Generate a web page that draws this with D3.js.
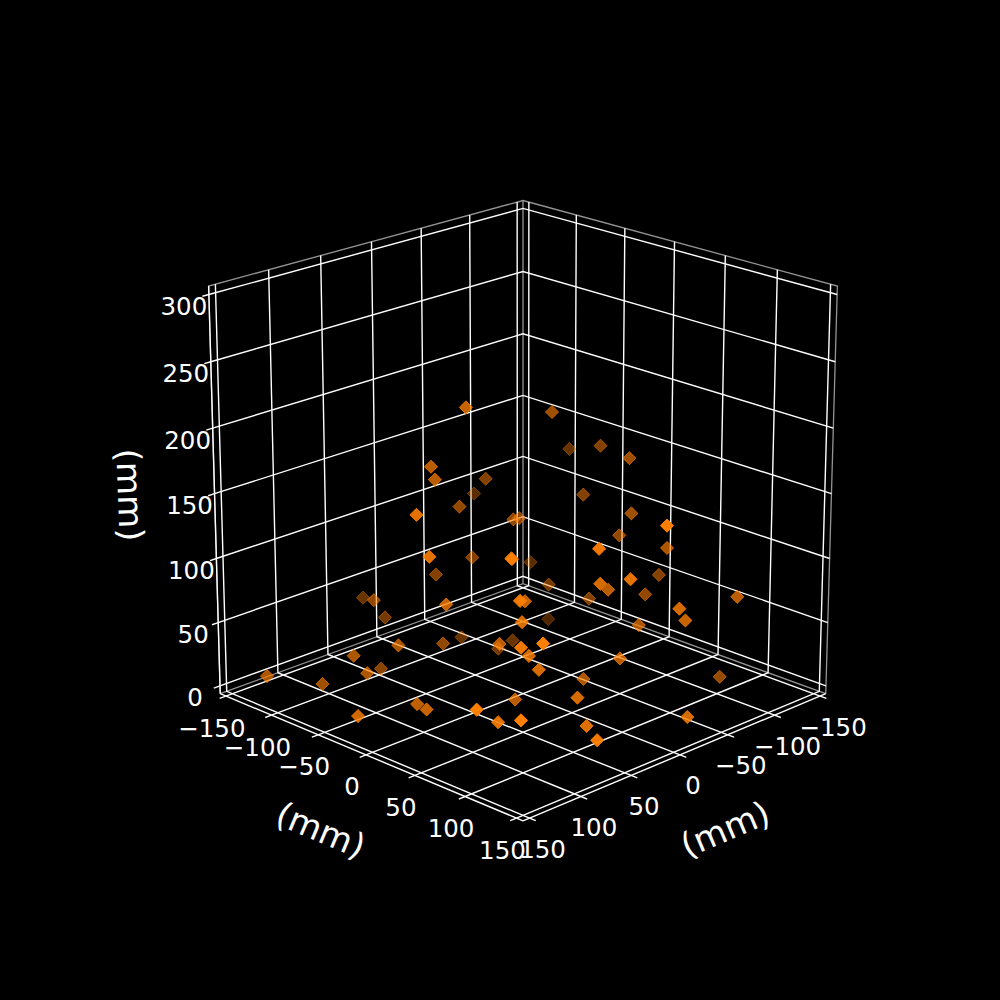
<!DOCTYPE html><html><head><meta charset="utf-8"><script src="https://d3js.org/d3.v7.min.js"></script></head><body style="margin:0;background:#000">
<svg id="s" width="1000" height="1000" style="display:block;background:#000"></svg>
<script>
const xValues=[9,26,26,-42,-65,-13,73,74,-21,1,23,48,25,53,-9,54,-39,-42,46,12,-67,-83,-18,-43,-23,-115,-94,-75,-63,28,-92,-48,53,54,30,28,22,-29,-37,-25,20,-22,78,80,97,22,68,77,137,101,89,64,85,51,123,-67,-113,-108,-99,-90,-90,-29,-91,-2,-91,-54,-66,-108,13,20,33,-114,-39];
const yValues=[-49,-68,-64,-81,-117,-79,-34,-20,-74,-90,-146,-107,-120,-25,-21,43,-49,-46,43,14,-40,-75,60,44,85,27,33,-6,56,27,-65,-59,73,52,36,44,-2,-55,62,37,-63,-87,-30,-18,51,14,43,75,-126,-106,-85,-64,-75,-97,-44,-37,-64,-27,11,-27,22,114,9,74,57,104,99,111,68,84,107,90,127];
const zValues=[206,160,151,130,103,116,144,116,75,63,35,51,27,72,92,126,107,108,92,74,50,54,92,76,101,63,55,46,46,66,8,5,70,61,43,34,39,5,29,9,21,7,0,0,26,0,5,19,11,0,25,32,13,0,0,187,140,153,155,119,117,148,96,127,99,75,61,71,15,0,0,0,2];
const xTicks=[-150,-100,-50,0,50,100,150];
const yTicks=[-150,-100,-50,0,50,100,150];
const zTicks=[0,50,100,150,200,250,300];
const axisLabel="(mm)";
const xLim=[-156.25,156.25],yLim=[-156.25,156.25],zLim=[-6.25,306.25];

const f=3942,cx=523,cy=493.7,D=10,e=20*Math.PI/180,se=Math.sin(e),ce=Math.cos(e),r2=Math.SQRT2;
const sx=d3.scaleLinear().domain(xLim).range([-.5533,.5533]);
const sy=d3.scaleLinear().domain(yLim).range([-.5533,.5533]);
const sz=d3.scaleLinear().domain(zLim).range([-.55,.55]);
function cam(p){const wx=sx(p[0]),wy=sy(p[1]),wz=sz(p[2]);const s=(wx+wy)/r2;return {X:(wy-wx)/r2,Y:-se*s+ce*wz,Z:ce*s+se*wz};}
function proj(p){const c=cam(p),w=D-c.Z;return [cx+f*c.X/w,cy-f*c.Y/w];}
const [x0,x1]=xLim,[y0,y1]=yLim,[z0,z1]=zLim;
const line=d3.line().x(p=>proj(p)[0]).y(p=>proj(p)[1]);
const svg=d3.select("#s");
const font="'DejaVu Sans'";
function draw(pts,col,w){svg.append("path").attr("d",line(pts)).attr("fill","none").attr("stroke",col).attr("stroke-width",w);}
const gray="#949494",lw=1.4;
// pane edges
[[[x1,y0,z0],[x1,y0,z1],[x0,y0,z1],[x0,y1,z1],[x0,y1,z0]],[[x0,y0,z0],[x0,y0,z1]],[[x1,y0,z0],[x0,y0,z0],[x0,y1,z0]]].forEach(p=>draw(p,gray,1.3));
// grid
xTicks.forEach(t=>draw([[t,y1,z0],[t,y0,z0],[t,y0,z1]],"#fff",lw));
yTicks.forEach(t=>draw([[x1,t,z0],[x0,t,z0],[x0,t,z1]],"#fff",lw));
zTicks.forEach(t=>draw([[x1,y0,t],[x0,y0,t],[x0,y1,t]],"#fff",lw));
// axis lines
draw([[x0,y1,z0],[x1,y1,z0]],"#fff",lw);
draw([[x1,y0,z0],[x1,y1,z0]],"#fff",lw);
draw([[x1,y0,z0],[x1,y0,z1]],"#fff",lw);
// ticks
xTicks.forEach(t=>draw([[t,y1,z0],[t,y1+6,z0]],"#fff",lw));
yTicks.forEach(t=>draw([[x1,t,z0],[x1+6,t,z0]],"#fff",lw));
zTicks.forEach(t=>draw([[x1,y0,t],[x1+6,y0,t]],"#fff",lw));
// tick labels
const fmt=t=>String(t).replace("-","\u2212");
function label(pos,dx,dy,t){const p=proj(pos);svg.append("text").attr("x",p[0]+dx).attr("y",p[1]+dy).attr("text-anchor","middle").attr("dominant-baseline","central").attr("font-family",font).attr("font-size",24.5).attr("fill","#fff").text(fmt(t));}
xTicks.forEach(t=>label([t,y1,z0],13,31,t));
yTicks.forEach(t=>label([x1,t,z0],-14,32,t));
zTicks.forEach(t=>label([x1,y0,t],-25,12,t));
// axis labels
function axt(x,y,r){svg.append("text").attr("transform",`translate(${x},${y}) rotate(${r})`).attr("text-anchor","middle").attr("dominant-baseline","central").attr("font-family",font).attr("font-size",34).attr("fill","#fff").text(axisLabel);}
axt(321,830,22.9);axt(725,829,-22.9);axt(130,495,88);
// points, far to near with depth shading
const pts=xValues.map((x,i)=>{const p=[x,yValues[i],zValues[i]];return {p,z:cam(p).Z};}).sort((a,b)=>a.z-b.z);
const shade=d3.scaleLinear().domain(d3.extent(pts,d=>d.z)).range([.3,1]);
const sym=d3.symbol(d3.symbolDiamond2,110)();
svg.append("g").selectAll("path").data(pts).join("path").attr("d",sym)
 .attr("transform",d=>{const q=proj(d.p);return `translate(${q[0]},${q[1]})`;})
 .attr("fill","#ff7f00").attr("stroke","#ff7f00").attr("stroke-width",1).attr("fill-opacity",d=>shade(d.z)).attr("stroke-opacity",d=>shade(d.z));
</script></body></html>
